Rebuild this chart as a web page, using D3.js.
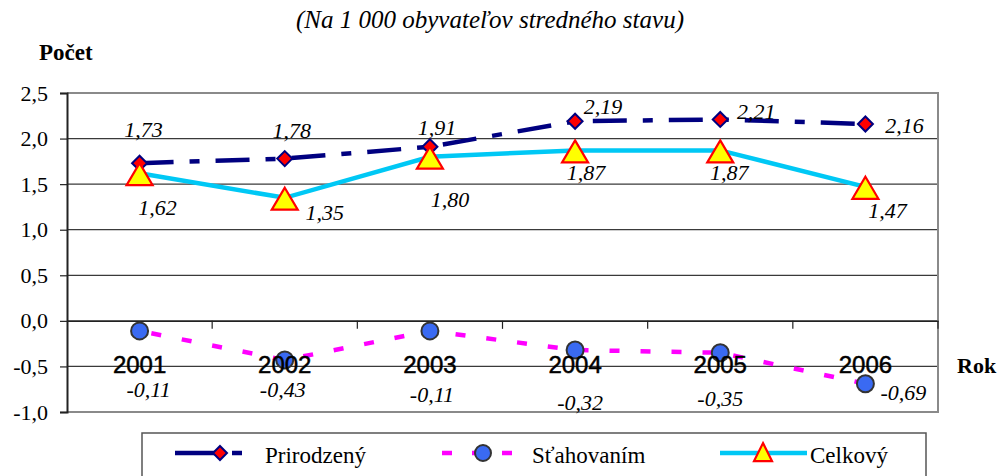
<!DOCTYPE html>
<!-- chart v5 -->
<html>
<head>
<meta charset="utf-8">
<title>Chart</title>
<script src="https://d3js.org/d3.v7.min.js"></script>
</head>
<body style="margin:0;background:#fff">
<svg id="chart" width="999" height="476" style="display:block"></svg>
<script>
// ---- data ----
const years = ["2001", "2002", "2003", "2004", "2005", "2006"];
const prirodzeny = [1.73, 1.78, 1.91, 2.19, 2.21, 2.16];
const stahovanim = [-0.11, -0.43, -0.11, -0.32, -0.35, -0.69];
const celkovy = [1.62, 1.35, 1.80, 1.87, 1.87, 1.47];
const yTicks = [-1.0, -0.5, 0.0, 0.5, 1.0, 1.5, 2.0, 2.5];
const seriesNames = ["Prirodzený", "Sťahovaním", "Celkový"];
const titleText = "(Na 1 000 obyvateľov stredného stavu)";
const yAxisTitle = "Počet";
const xAxisTitle = "Rok";

// ---- label offsets (layout only) ----
const offPrir = [[4,-26],[7,-21],[7,-12],[28,-7],[36,0],[39,9]];
const offStah = [[9,66],[-2,37],[2,71],[5,60],[0,53],[38,16]];
const offCelk = [[18,42],[40,22],[20,50],[11,30],[9,30],[22,31]];

const svg = d3.select("#chart");
const L = 67, R = 938, T = 93, B = 412;
const x = d3.scaleBand().domain(years).range([L, R]).paddingInner(0).paddingOuter(0);
const cx = d => x(d) + x.bandwidth() / 2;
const y = d3.scaleLinear().domain([-1, 2.5]).range([B, T]);
const fmt1 = v => v.toFixed(1).replace(".", ",");
const fmt2 = v => v.toFixed(2).replace(".", ",");

const SERIF = "Liberation Serif";
const SANS = "Liberation Sans";

function txt(parent, family) {
  return parent.append("text").attr("font-family", family).style("font-family", family);
}

// title
txt(svg, SERIF).attr("x", 490).attr("y", 28).attr("text-anchor", "middle")
  .attr("font-style", "italic").attr("font-size", 25).text(titleText);
txt(svg, SERIF).attr("x", 39).attr("y", 60)
  .attr("font-weight", "bold").attr("font-size", 23).text(yAxisTitle);
txt(svg, SERIF).attr("x", 957).attr("y", 373)
  .attr("font-weight", "bold").attr("font-size", 22).text(xAxisTitle);

// gridlines
svg.append("g").selectAll("line").data(yTicks.filter(v => v !== 2.5 && v !== -1.0)).join("line")
  .attr("x1", L).attr("x2", R).attr("y1", d => y(d)).attr("y2", d => y(d))
  .attr("stroke", "#3a3a3a").attr("stroke-width", 1.2);

// plot border (top, right, bottom)
svg.append("path")
  .attr("d", `M${L},${y(2.5)}H${R}V${y(-1)}H${L}`)
  .attr("fill", "none").attr("stroke", "#8a8a8a").attr("stroke-width", 2);

// y axis
const yAxis = d3.axisLeft(y).tickValues(yTicks).tickFormat(fmt1).tickSize(7).tickPadding(12);
const gy = svg.append("g").attr("transform", `translate(${L},0)`).call(yAxis);
gy.attr("font-family", SERIF).attr("font-size", 22);
gy.select(".domain").attr("stroke", "#222").attr("stroke-width", 2);
gy.selectAll(".tick line").attr("stroke", "#222").attr("stroke-width", 1.2);
gy.selectAll(".tick text").style("font-family", SERIF).attr("font-size", 22).attr("fill", "#000");

// x axis at zero with ticks at band boundaries
const xAxis = d3.axisBottom(x).tickSize(0).tickFormat("");
const gx = svg.append("g").attr("transform", `translate(0,${y(0)})`).call(xAxis);
gx.select(".domain").attr("stroke", "#222").attr("stroke-width", 1.2);
const bounds = years.slice(1).map(d => x(d)).concat([R]);
svg.append("g").selectAll("line").data(bounds).join("line")
  .attr("x1", d => d).attr("x2", d => d)
  .attr("y1", y(0)).attr("y2", y(0) + 8)
  .attr("stroke", "#222").attr("stroke-width", 1.2);

// lines
const line = d3.line().x((d, i) => cx(years[i])).y(d => y(d));
svg.append("path").datum(prirodzeny).attr("d", line)
  .attr("fill", "none").attr("stroke", "#000080").attr("stroke-width", 4.5)
  .attr("stroke-dasharray", "34,16,10,16");
svg.append("path").datum(stahovanim).attr("d", line)
  .attr("fill", "none").attr("stroke", "#ff00ff").attr("stroke-width", 4.5)
  .attr("stroke-dasharray", "10,21").attr("stroke-dashoffset", -12);
svg.append("path").datum(celkovy).attr("d", line)
  .attr("fill", "none").attr("stroke", "#00c8f5").attr("stroke-width", 4.5);

// markers
const diamond = s => `M0,${-s}L${s},0L0,${s}L${-s},0Z`;
const tri = (w, h) => `M0,${-h * 0.55}L${w / 2},${h * 0.45}L${-w / 2},${h * 0.45}Z`;

svg.append("g").selectAll("path").data(prirodzeny).join("path")
  .attr("transform", (d, i) => `translate(${cx(years[i])},${y(d)})`)
  .attr("d", diamond(7.5)).attr("fill", "#ff0000").attr("stroke", "#000080").attr("stroke-width", 2);
svg.append("g").selectAll("circle").data(stahovanim).join("circle")
  .attr("cx", (d, i) => cx(years[i])).attr("cy", d => y(d)).attr("r", 8.5)
  .attr("fill", "#3a6af2").attr("stroke", "#333").attr("stroke-width", 2);
svg.append("g").selectAll("path").data(celkovy).join("path")
  .attr("transform", (d, i) => `translate(${cx(years[i])},${y(d) + 2})`)
  .attr("d", tri(26, 22)).attr("fill", "#ffff00").attr("stroke", "#ff0000").attr("stroke-width", 2.2);

// category labels
svg.append("g").selectAll("text").data(years).join("text")
  .attr("font-family", SANS).style("font-family", SANS)
  .attr("x", d => cx(d)).attr("y", y(0) + 52).attr("text-anchor", "middle")
  .attr("font-size", 24).attr("fill", "#000")
  .attr("stroke", "#000").attr("stroke-width", 0.5)
  .text(d => d);

// data labels
function labels(vals, offs) {
  svg.append("g").selectAll("text").data(vals).join("text")
    .attr("font-family", SERIF).style("font-family", SERIF)
    .attr("x", (d, i) => cx(years[i]) + offs[i][0])
    .attr("y", (d, i) => y(d) + offs[i][1])
    .attr("text-anchor", "middle")
    .attr("font-style", "italic").attr("font-size", 22)
    .text(d => fmt2(d));
}
labels(prirodzeny, offPrir);
labels(stahovanim, offStah);
labels(celkovy, offCelk);

// legend
const lg = svg.append("g");
lg.append("rect").attr("x", 142).attr("y", 433).attr("width", 784).attr("height", 60)
  .attr("fill", "#fff").attr("stroke", "#555").attr("stroke-width", 1.5);
const ly = 453;
lg.append("line").attr("x1", 175).attr("x2", 243).attr("y1", ly).attr("y2", ly)
  .attr("stroke", "#000080").attr("stroke-width", 4.5).attr("stroke-dasharray", "40,17,10");
lg.append("path").attr("transform", `translate(220,${ly})`).attr("d", diamond(7))
  .attr("fill", "#ff0000").attr("stroke", "#000080").attr("stroke-width", 2);
txt(lg, SERIF).attr("x", 265).attr("y", 463).attr("font-size", 23).text(seriesNames[0]);
lg.append("line").attr("x1", 442).attr("x2", 513).attr("y1", ly).attr("y2", ly)
  .attr("stroke", "#ff00ff").attr("stroke-width", 4.5).attr("stroke-dasharray", "10,20");
lg.append("circle").attr("cx", 483).attr("cy", ly).attr("r", 8)
  .attr("fill", "#3a6af2").attr("stroke", "#333").attr("stroke-width", 2);
txt(lg, SERIF).attr("x", 532).attr("y", 463).attr("font-size", 23).text(seriesNames[1]);
lg.append("line").attr("x1", 720).attr("x2", 807).attr("y1", ly).attr("y2", ly)
  .attr("stroke", "#00c8f5").attr("stroke-width", 4.5);
lg.append("path").attr("transform", `translate(763,${ly})`).attr("d", tri(18, 18))
  .attr("fill", "#ffff00").attr("stroke", "#ff0000").attr("stroke-width", 2.2);
txt(lg, SERIF).attr("x", 810).attr("y", 463).attr("font-size", 23).text(seriesNames[2]);
</script>
</body>
</html>
